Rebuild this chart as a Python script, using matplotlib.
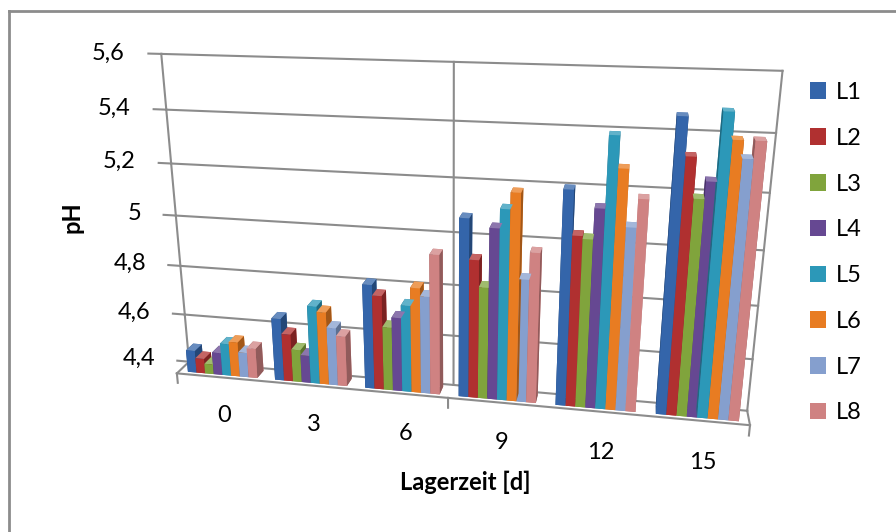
import numpy as np
import matplotlib.pyplot as plt
from matplotlib.patches import Patch
from matplotlib.lines import Line2D

plt.rcParams['font.family'] = ['Lato', 'DejaVu Sans']

# Lagerzeit in Tagen
lagerzeit = ['0', '3', '6', '9', '12', '15']
reihen = ['L1', 'L2', 'L3', 'L4', 'L5', 'L6', 'L7', 'L8']

# pH-Werte je Reihe
ph_L1 = [4.49, 4.65, 4.81, 5.08, 5.20, 5.46]
ph_L2 = [4.46, 4.59, 4.77, 4.93, 5.04, 5.33]
ph_L3 = [4.44, 4.53, 4.65, 4.83, 5.03, 5.19]
ph_L4 = [4.49, 4.51, 4.69, 5.05, 5.14, 5.25]
ph_L5 = [4.53, 4.71, 4.74, 5.12, 5.39, 5.48]
ph_L6 = [4.54, 4.69, 4.81, 5.18, 5.28, 5.39]
ph_L7 = [4.50, 4.63, 4.78, 4.87, 5.08, 5.33]
ph_L8 = [4.52, 4.60, 4.94, 4.97, 5.18, 5.39]

y_ticks = [4.4, 4.6, 4.8, 5.0, 5.2, 5.4, 5.6]
y_tick_labels = ['4,4', '4,6', '4,8', '5', '5,2', '5,4', '5,6']

farben = ['#3465AA', '#B03030', '#80A43C', '#664892', '#2C98B8', '#E87C22', '#859FCE', '#CF8282']

werte = [ph_L1, ph_L2, ph_L3, ph_L4, ph_L5, ph_L6, ph_L7, ph_L8]


def shade(hex_col, f):
    c = np.array(plt.matplotlib.colors.to_rgb(hex_col))
    if f > 1:
        c = c + (1 - c) * (f - 1)
    else:
        c = c * f
    return tuple(np.clip(c, 0, 1))


fig = plt.figure(figsize=(8.96, 5.32), dpi=100)
ax = fig.add_axes([0.064, -0.03, 0.86, 1.14], projection='3d')
ax.set_proj_type('persp', focal_length=0.3)
ax.view_init(elev=18, azim=-79)
ax.set_xlim(-0.5, 5.5)
ax.set_ylim(0, 1)
ax.set_zlim(4.4, 5.6)
ax.set_box_aspect((6, 0.3, 3.4), zoom=1.115)
ax.set_axis_off()

x0 = np.arange(len(lagerzeit))
bw = 0.1
grau = '#8C8C8C'

# Rückwand mit Gitterlinien
for z, lab in zip(y_ticks, y_tick_labels):
    ax.plot([-0.5, 5.5], [1, 1], [z, z], color=grau, lw=1.5, clip_on=False)
    ax.plot([-0.64, -0.5], [1, 1], [z, z], color=grau, lw=1.5, clip_on=False)
    ax.text(-0.9, 1, z, lab, ha='right', va='center', fontsize=17)
for xv in [-0.5, 2.5, 5.5]:
    ax.plot([xv, xv], [1, 1], [4.4, 5.6], color=grau, lw=1.5, clip_on=False)
    ax.plot([xv, xv], [0, 0], [4.36, 4.4], color=grau, lw=1.5, clip_on=False)
# Boden
ax.plot([-0.5, 5.5], [0, 0], [4.4, 4.4], color=grau, lw=1.5, clip_on=False)
ax.plot([-0.5, -0.5], [0, 1], [4.4, 4.4], color=grau, lw=1.5, clip_on=False)
ax.plot([5.5, 5.5], [0, 1], [4.4, 4.4], color=grau, lw=1.5, clip_on=False)

# Säulen: alle in einem Aufruf, damit die Tiefensortierung stimmt
xs, hs, fc = [], [], []
for i, (vals, col) in enumerate(zip(werte, farben)):
    xs.extend(x0 - 0.4 + i * bw)
    hs.extend(np.array(vals) - 4.4)
    face = [shade(col, 0.85), shade(col, 1.25), col, col, shade(col, 0.7), shade(col, 0.7)]
    fc.extend(face * len(vals))
n = len(xs)
bars = ax.bar3d(np.array(xs), np.full(n, 0.2), np.full(n, 4.4), bw, 0.6, np.array(hs),
                color=fc, shade=False, edgecolor='none')
bars.set_clip_on(False)

for i, lab in enumerate(lagerzeit):
    ax.text(i + 0.08, -0.45, 4.265, lab, ha='center', va='center', fontsize=17)

fig.text(0.080, 0.592, 'pH', rotation=90, ha='center', va='center', fontsize=17, fontweight='bold')
fig.text(0.519, 0.094, 'Lagerzeit [d]', ha='center', va='center', fontsize=17, fontweight='bold')

handles = [Patch(facecolor=c) for c in farben]
fig.legend(handles, reihen, loc='center left', bbox_to_anchor=(0.88, 0.525), frameon=False,
           fontsize=17, handlelength=0.7, handleheight=0.7, handletextpad=0.4, labelspacing=1.05)

# Rahmen des Diagrammbereichs
fig.add_artist(Line2D([0.0105, 0.0105], [0, 0.98], color=grau, lw=2, transform=fig.transFigure))
fig.add_artist(Line2D([0.0105, 1], [0.98, 0.98], color=grau, lw=2, transform=fig.transFigure))

fig.savefig('out.png', dpi=100)
